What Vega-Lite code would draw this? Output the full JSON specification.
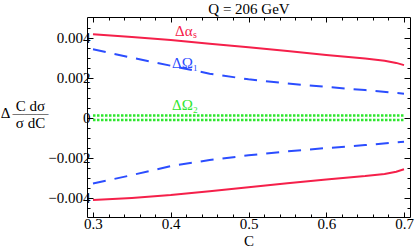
{
  "$schema": "https://vega.github.io/schema/vega-lite/v6.json",
  "width": 323,
  "height": 200,
  "autosize": "none",
  "padding": {"left": 87, "top": 17, "right": 5, "bottom": 33},
  "background": "white",
  "config": {
    "view": {"stroke": "black", "strokeWidth": 1},
    "axis": {"domain": false, "grid": false, "tickColor": "black", "tickWidth": 1, "labelFont": "Liberation Serif", "labelFontSize": 15, "labelColor": "black", "titleFont": "Liberation Serif", "titleFontSize": 15, "titleFontWeight": "normal", "titleColor": "black"}
  },
  "datasets": {
    "curves": [
      {"s": "as", "b": "top", "C": 0.3, "v": 0.00417},
      {"s": "as", "b": "top", "C": 0.35, "v": 0.00403},
      {"s": "as", "b": "top", "C": 0.4, "v": 0.00389},
      {"s": "as", "b": "top", "C": 0.45, "v": 0.0037},
      {"s": "as", "b": "top", "C": 0.5, "v": 0.00352},
      {"s": "as", "b": "top", "C": 0.55, "v": 0.00333},
      {"s": "as", "b": "top", "C": 0.6, "v": 0.00313},
      {"s": "as", "b": "top", "C": 0.65, "v": 0.00296},
      {"s": "as", "b": "top", "C": 0.675, "v": 0.00285},
      {"s": "as", "b": "top", "C": 0.69, "v": 0.00274},
      {"s": "as", "b": "top", "C": 0.7, "v": 0.00263},
      {"s": "as", "b": "bot", "C": 0.3, "v": -0.00412},
      {"s": "as", "b": "bot", "C": 0.35, "v": -0.00401},
      {"s": "as", "b": "bot", "C": 0.4, "v": -0.00387},
      {"s": "as", "b": "bot", "C": 0.45, "v": -0.00368},
      {"s": "as", "b": "bot", "C": 0.5, "v": -0.00348},
      {"s": "as", "b": "bot", "C": 0.55, "v": -0.00328},
      {"s": "as", "b": "bot", "C": 0.6, "v": -0.00309},
      {"s": "as", "b": "bot", "C": 0.65, "v": -0.00292},
      {"s": "as", "b": "bot", "C": 0.675, "v": -0.00281},
      {"s": "as", "b": "bot", "C": 0.69, "v": -0.0027},
      {"s": "as", "b": "bot", "C": 0.7, "v": -0.00258},
      {"s": "O1", "b": "top", "C": 0.3, "v": 0.00342},
      {"s": "O1", "b": "top", "C": 0.35, "v": 0.003},
      {"s": "O1", "b": "top", "C": 0.4, "v": 0.0026},
      {"s": "O1", "b": "top", "C": 0.45, "v": 0.0022},
      {"s": "O1", "b": "top", "C": 0.5, "v": 0.00192},
      {"s": "O1", "b": "top", "C": 0.55, "v": 0.00171},
      {"s": "O1", "b": "top", "C": 0.6, "v": 0.00154},
      {"s": "O1", "b": "top", "C": 0.65, "v": 0.00138},
      {"s": "O1", "b": "top", "C": 0.7, "v": 0.0012},
      {"s": "O1", "b": "bot", "C": 0.3, "v": -0.00329},
      {"s": "O1", "b": "bot", "C": 0.35, "v": -0.00287},
      {"s": "O1", "b": "bot", "C": 0.4, "v": -0.00242},
      {"s": "O1", "b": "bot", "C": 0.45, "v": -0.00212},
      {"s": "O1", "b": "bot", "C": 0.5, "v": -0.00188},
      {"s": "O1", "b": "bot", "C": 0.55, "v": -0.00168},
      {"s": "O1", "b": "bot", "C": 0.6, "v": -0.00152},
      {"s": "O1", "b": "bot", "C": 0.65, "v": -0.00137},
      {"s": "O1", "b": "bot", "C": 0.7, "v": -0.0012},
      {"s": "O2", "b": "top", "C": 0.3, "v": 0.00011},
      {"s": "O2", "b": "top", "C": 0.7, "v": 0.00011},
      {"s": "O2", "b": "bot", "C": 0.3, "v": -0.00011},
      {"s": "O2", "b": "bot", "C": 0.7, "v": -0.00011}
    ],
    "labels": [
      {"s": "as", "C": 0.4055, "v": 0.00434, "t": "Δα"},
      {"s": "O1", "C": 0.4016, "v": 0.00276, "t": "ΔΩ₁"},
      {"s": "O2", "C": 0.4016, "v": 0.00065, "t": "ΔΩ₂"}
    ]
  },
  "resolve": {"axis": {"x": "independent", "y": "independent"}},
  "layer": [
    {
      "data": {"name": "curves"},
      "transform": [{"filter": "datum.s === 'as'"}],
      "mark": {"type": "line", "color": "#f5204a", "strokeWidth": 2},
      "encoding": {
        "x": {"field": "C", "type": "quantitative", "scale": {"domain": [0.2923, 0.7077], "nice": false, "zero": false},
              "axis": {"orient": "bottom", "values": [0.3, 0.4, 0.5, 0.6, 0.7], "format": ".1f", "tickSize": -5, "labelPadding": 4, "title": "C", "titlePadding": 2}},
        "y": {"field": "v", "type": "quantitative", "scale": {"domain": [-0.004965, 0.005035], "nice": false, "zero": false},
              "axis": {"orient": "left", "values": [-0.004, -0.002, 0, 0.002, 0.004], "format": ".3f", "labelExpr": "datum.value === 0 ? '0' : datum.label", "tickSize": -6, "labelPadding": 3,
                       "title": ["C dσ", "σ dC"], "titleAngle": 0, "titleAlign": "center", "titleBaseline": "alphabetic", "titleLineHeight": 17, "titleX": -57, "titleY": 93, "titleFontSize": 15}},
        "detail": {"field": "b"}
      }
    },
    {
      "data": {"name": "curves"},
      "transform": [{"filter": "datum.s === 'O1'"}],
      "mark": {"type": "line", "color": "#2b4dff", "strokeWidth": 2, "strokeDash": [13, 9]},
      "encoding": {
        "x": {"field": "C", "type": "quantitative", "axis": {"orient": "top", "values": [0.3, 0.4, 0.5, 0.6, 0.7], "labels": false, "tickSize": -5,
              "title": "Q = 206 GeV", "titleX": 161.5, "titleY": -4, "titleAlign": "center", "titleBaseline": "alphabetic", "titleAngle": 0}},
        "y": {"field": "v", "type": "quantitative", "axis": {"orient": "right", "values": [-0.004, -0.002, 0, 0.002, 0.004], "labels": false, "tickSize": -6,
              "title": "———", "titleFontSize": 12, "titleAngle": 0, "titleAlign": "center", "titleBaseline": "alphabetic", "titleX": -380, "titleY": 99}},
        "detail": {"field": "b"}
      }
    },
    {
      "data": {"name": "curves"},
      "transform": [{"filter": "datum.s === 'O2'"}],
      "mark": {"type": "line", "color": "#2ee62e", "strokeWidth": 2.5, "strokeDash": [2.5, 1.5]},
      "encoding": {
        "x": {"field": "C", "type": "quantitative", "axis": {"orient": "bottom", "values": [0.32, 0.34, 0.36, 0.38, 0.42, 0.44, 0.46, 0.48, 0.52, 0.54, 0.56, 0.58, 0.62, 0.64, 0.66, 0.68], "labels": false, "tickSize": -3, "title": null}},
        "y": {"field": "v", "type": "quantitative", "axis": {"orient": "left", "values": [-0.0045, -0.0035, -0.003, -0.0025, -0.0015, -0.001, -0.0005, 0.0005, 0.001, 0.0015, 0.0025, 0.003, 0.0035, 0.0045], "labels": false, "tickSize": -3,
              "title": "Δ", "titleAngle": 0, "titleAlign": "center", "titleBaseline": "alphabetic", "titleX": -82, "titleY": 100, "titleFontSize": 15}},
        "detail": {"field": "b"}
      }
    },
    {
      "data": {"name": "labels"},
      "mark": {"type": "text", "font": "Liberation Serif", "fontSize": 15, "baseline": "middle", "align": "left"},
      "encoding": {
        "x": {"field": "C", "type": "quantitative", "axis": {"orient": "top", "values": [0.32, 0.34, 0.36, 0.38, 0.42, 0.44, 0.46, 0.48, 0.52, 0.54, 0.56, 0.58, 0.62, 0.64, 0.66, 0.68], "labels": false, "tickSize": -3, "title": null}},
        "y": {"field": "v", "type": "quantitative", "axis": {"orient": "right", "values": [-0.0045, -0.0035, -0.003, -0.0025, -0.0015, -0.001, -0.0005, 0.0005, 0.001, 0.0015, 0.0025, 0.003, 0.0035, 0.0045], "labels": false, "tickSize": -3, "title": null}},
        "text": {"field": "t"},
        "color": {"field": "s", "type": "nominal", "scale": {"domain": ["as", "O1", "O2"], "range": ["#f5204a", "#2b4dff", "#2ee62e"]}, "legend": null}
      }
    },
    {
      "data": {"name": "labels"},
      "transform": [{"filter": "datum.s === 'as'"}],
      "mark": {"type": "text", "font": "Liberation Serif", "fontSize": 10, "baseline": "middle", "align": "left", "dx": 18, "dy": 4, "color": "#f5204a", "text": "s"},
      "encoding": {
        "x": {"field": "C", "type": "quantitative", "axis": null},
        "y": {"field": "v", "type": "quantitative", "axis": null}
      }
    }
  ]
}
